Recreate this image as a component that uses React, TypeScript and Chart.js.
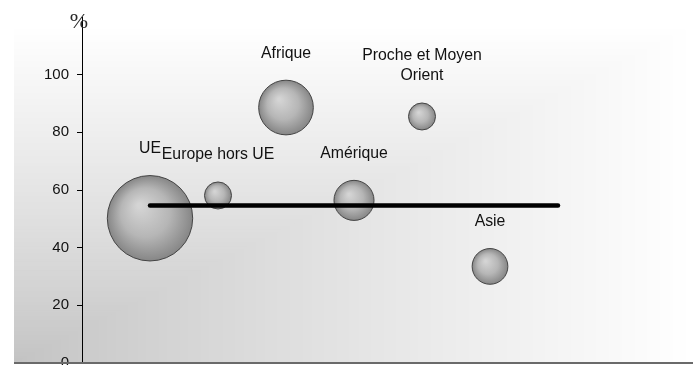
import React, { useEffect, useRef } from 'react';
import { Chart, registerables } from 'chart.js';

Chart.register(...registerables);

// ---- Data ----
const categories = ['UE', 'Europe hors UE', 'Afrique', 'Amérique', 'Proche et Moyen Orient', 'Asie'];
const labelLines = [['UE'], ['Europe hors UE'], ['Afrique'], ['Amérique'], ['Proche et Moyen', 'Orient'], ['Asie']];
const xPositions = [1, 2, 3, 4, 5, 6];
const yValues = [50.2, 58.1, 88.6, 56.4, 85.5, 33.5];
const bubbleWeights = [100, 10, 41, 22, 10, 17.5];
const averageValue = 54.6;
const averageSpan = [1, 7];
const yTickValues = [0, 20, 40, 60, 80, 100];
const yAxisUnit = '%';

const RADIUS_K = 4.27;
const LABEL_FONT = '15.8px "Liberation Sans", Arial, sans-serif';

const bgPlugin = {
  id: 'cornerBg',
  beforeDraw(chart: any) {
    const ctx = chart.ctx;
    const ys = chart.scales.y;
    const bottom = ys.getPixelForValue(0);
    const left = 14;
    const top = 25;
    const W = 680;
    const H = bottom - top;
    ctx.save();
    const N = 160;
    for (let i = 0; i <= N; i++) {
      const t = 1 - i / N;
      const v = Math.round(194 + Math.pow(t, 0.85) * 61);
      ctx.fillStyle = `rgb(${v},${v},${v})`;
      ctx.fillRect(left, bottom - t * H, Math.max(t * W, 0.5), Math.max(t * H, 0.5));
    }
    ctx.restore();
  },
  afterDraw(chart: any) {
    const ctx = chart.ctx;
    const ys = chart.scales.y;
    const bottom = ys.getPixelForValue(0);
    ctx.save();
    ctx.strokeStyle = '#6a6a6a';
    ctx.lineWidth = 2;
    ctx.beginPath();
    ctx.moveTo(14, bottom);
    ctx.lineTo(chart.width, bottom);
    ctx.stroke();
    ctx.fillStyle = '#2a2a2a';
    ctx.font = '22px "Liberation Serif", "Times New Roman", serif';
    ctx.textAlign = 'center';
    ctx.textBaseline = 'middle';
    ctx.fillText(yAxisUnit, chart.chartArea.left - 3, 22);
    ctx.restore();
  },
  afterDatasetsDraw(chart: any) {
    const ctx = chart.ctx;
    const xs = chart.scales.x;
    const ys = chart.scales.y;
    ctx.save();
    ctx.fillStyle = '#111';
    ctx.font = LABEL_FONT;
    ctx.textAlign = 'center';
    ctx.textBaseline = 'middle';
    categories.forEach((_, i) => {
      const cx = xs.getPixelForValue(xPositions[i]);
      const cy = ys.getPixelForValue(yValues[i]);
      const r = RADIUS_K * Math.sqrt(bubbleWeights[i]);
      const lines = labelLines[i];
      const lastY = cy - r - 27;
      lines.forEach((ln, k) => {
        ctx.fillText(ln, cx, lastY - (lines.length - 1 - k) * 20.5);
      });
    });
    ctx.restore();
  },
};

export default function App() {
  const ref = useRef<HTMLCanvasElement>(null);
  useEffect(() => {
    if (!ref.current) return;
    const bubbleData = categories.map((_, i) => ({
      x: xPositions[i],
      y: yValues[i],
      r: RADIUS_K * Math.sqrt(bubbleWeights[i]),
    }));
    const chart = new Chart(ref.current, {
      type: 'bubble',
      data: {
        datasets: [
          {
            type: 'line',
            label: 'Moyenne',
            data: averageSpan.map((x) => ({ x, y: averageValue })),
            borderColor: '#000',
            borderWidth: 4.5,
            borderCapStyle: 'round',
            pointRadius: 0,
            order: 0,
            clip: false,
          } as any,
          {
            type: 'bubble',
            label: 'Zones',
            data: bubbleData,
            order: 1,
            clip: false,
            borderColor: '#444',
            borderWidth: 1,
            backgroundColor: (c: any) => {
              const chart = c.chart;
              const xs = chart.scales.x;
              const ys = chart.scales.y;
              if (!xs || !ys || !c.raw) return '#b0b0b0';
              const cx = xs.getPixelForValue(c.raw.x);
              const cy = ys.getPixelForValue(c.raw.y);
              const r = c.raw.r;
              if (![cx, cy, r].every((v) => Number.isFinite(v))) return '#b0b0b0';
              const g = chart.ctx.createRadialGradient(cx - r * 0.25, cy - r * 0.3, r * 0.05, cx, cy, r);
              g.addColorStop(0, '#d4d4d4');
              g.addColorStop(0.55, '#b6b6b6');
              g.addColorStop(1, '#868686');
              return g;
            },
          } as any,
        ],
      },
      options: {
        animation: false,
        responsive: false,
        events: [],
        layout: { autoPadding: false, padding: { left: 0, right: 6, top: 16.5, bottom: 16.3 } } as any,
        plugins: { legend: { display: false }, tooltip: { enabled: false } },
        scales: {
          x: { type: 'linear', min: 0, max: 9, display: false },
          y: {
            type: 'linear',
            min: 0,
            max: 120,
            afterFit: (s: any) => {
              s.width = 82;
            },
            afterBuildTicks: (s: any) => {
              s.ticks = [...yTickValues, 120].map((v) => ({ value: v }));
            },
            border: { color: '#000', width: 1 },
            grid: {
              drawOnChartArea: false,
              drawTicks: true,
              tickLength: 5,
              tickColor: (c: any) => (c.tick && c.tick.value === 120 ? 'rgba(0,0,0,0)' : '#000'),
            },
            ticks: {
              padding: 8,
              color: '#111',
              font: { family: '"Liberation Sans", Arial, sans-serif', size: 15 },
              callback: (v: any) => (v === 120 ? '' : String(v)),
            },
          },
        },
      } as any,
      plugins: [bgPlugin],
    });
    return () => chart.destroy();
  }, []);
  return (
    <div style={{ position: 'fixed', left: 0, top: 0, width: 693, height: 365, overflow: 'hidden', background: '#fff' }}>
      <canvas ref={ref} width={700} height={380} style={{ display: 'block', width: 700, height: 380 }} />
    </div>
  );
}
